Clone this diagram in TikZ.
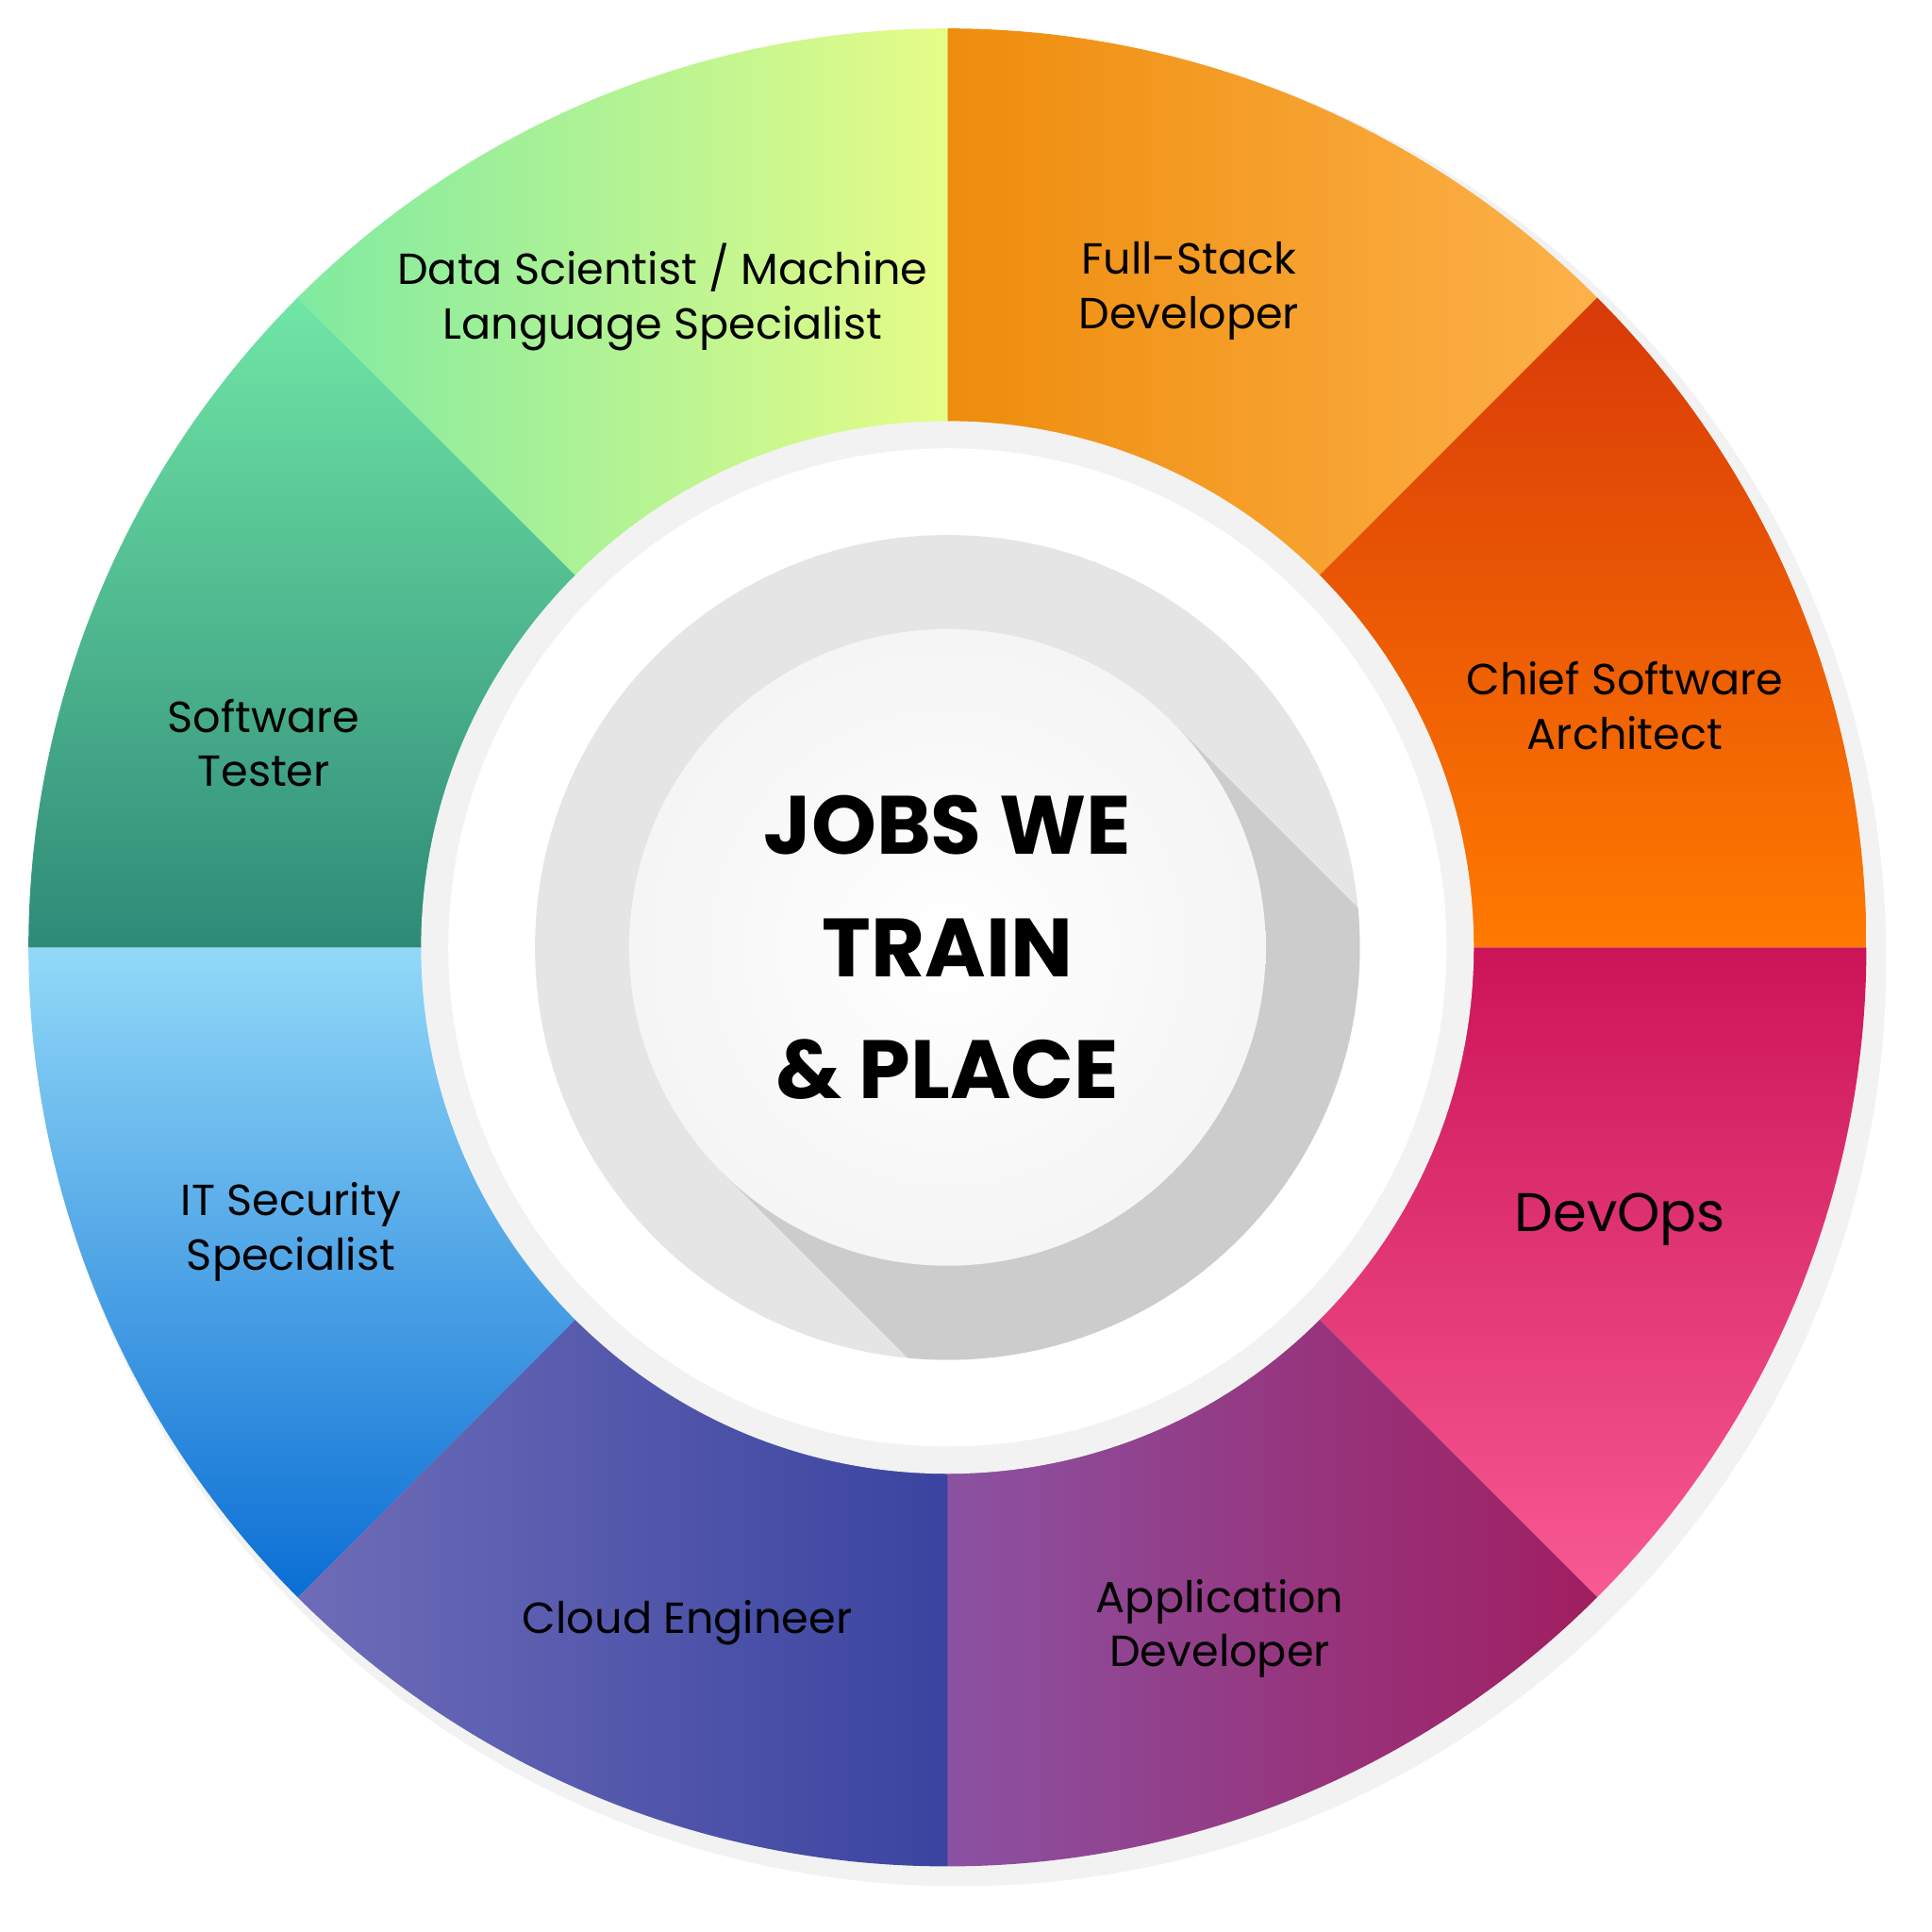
\documentclass[tikz,border=0pt]{standalone}
\usepackage{fontspec}
\setmainfont{Poppins}
\usetikzlibrary{positioning}
\definecolor{fsA}{HTML}{EE8C0C}\definecolor{fsB}{HTML}{FDB24A}
\definecolor{csA}{HTML}{D83A08}\definecolor{csB}{HTML}{FF7A00}
\definecolor{doA}{HTML}{CC1458}\definecolor{doB}{HTML}{F85A92}
\definecolor{adA}{HTML}{8A52A2}\definecolor{adB}{HTML}{A01E60}
\definecolor{ceA}{HTML}{6E6CB8}\definecolor{ceB}{HTML}{3A44A0}
\definecolor{isA}{HTML}{92D9F8}\definecolor{isB}{HTML}{0A6ED4}
\definecolor{stA}{HTML}{70E6A6}\definecolor{stB}{HTML}{2E8A78}
\definecolor{dsA}{HTML}{80EAA0}\definecolor{dsB}{HTML}{E6FC88}
\tikzset{
  seglabel/.style={font=\fontsize{10pt}{12.5pt}\selectfont, align=center, text=black},
  segment/.style={draw=none},
}
% #1 start angle, #2 end angle, #3 shading options
\newcommand{\ringseg}[3]{%
  \shade[segment, #3] (0,0) -- (#1:7.42) arc (#1:#2:7.42) -- cycle;}
\begin{document}
\begin{tikzpicture}
\useasboundingbox (-7.65,-7.95) rectangle (7.95,7.65);
\fill[black!5] (0.1,-0.1) circle (7.48);
\ringseg{45}{90}{left color=fsA, right color=fsB}
\ringseg{0}{45}{top color=csA, bottom color=csB}
\ringseg{-45}{0}{top color=doA, bottom color=doB}
\ringseg{-90}{-45}{left color=adA, right color=adB}
\ringseg{-135}{-90}{left color=ceA, right color=ceB}
\ringseg{180}{225}{top color=isA, bottom color=isB}
\ringseg{135}{180}{top color=stA, bottom color=stB}
\ringseg{90}{135}{left color=dsA, right color=dsB}
% centre rings
\fill[black!5] (0,0) circle (4.25);
\fill[white] (0,0) circle (4.03);
\fill[black!10] (0,0) circle (3.33);
\begin{scope}
  \clip (0,0) circle (3.33);
  \fill[black!20] (45:2.57) -- ++(-45:6) -- ++(-135:5.14) -- (-135:2.57) -- cycle;
\end{scope}
\shade[inner color=white, outer color=black!4] (0,0) circle (2.57);
\node[font=\fontsize{19pt}{28pt}\selectfont\bfseries, align=center] (centre)
  {JOBS WE\\TRAIN\\\& PLACE};
% labels
\node[seglabel] (fullstack) at (1.95,5.3) {Full-Stack\\Developer};
\node[seglabel] (chief) at (5.47,1.95) {Chief Software\\Architect};
\node[seglabel, font=\fontsize{12.5pt}{15pt}\selectfont] (devops) at (5.43,-2.2) {DevOps};
\node[seglabel] (appdev) at (2.2,-5.5) {Application\\Developer};
\node[seglabel] (cloud) at (-2.1,-5.45) {Cloud Engineer};
\node[seglabel] (itsec) at (-5.3,-2.3) {IT Security\\Specialist};
\node[seglabel] (tester) at (-5.52,1.65) {Software\\Tester};
\node[seglabel] (datasci) at (-2.3,5.25) {Data Scientist / Machine\\Language Specialist};
\end{tikzpicture}
\end{document}
